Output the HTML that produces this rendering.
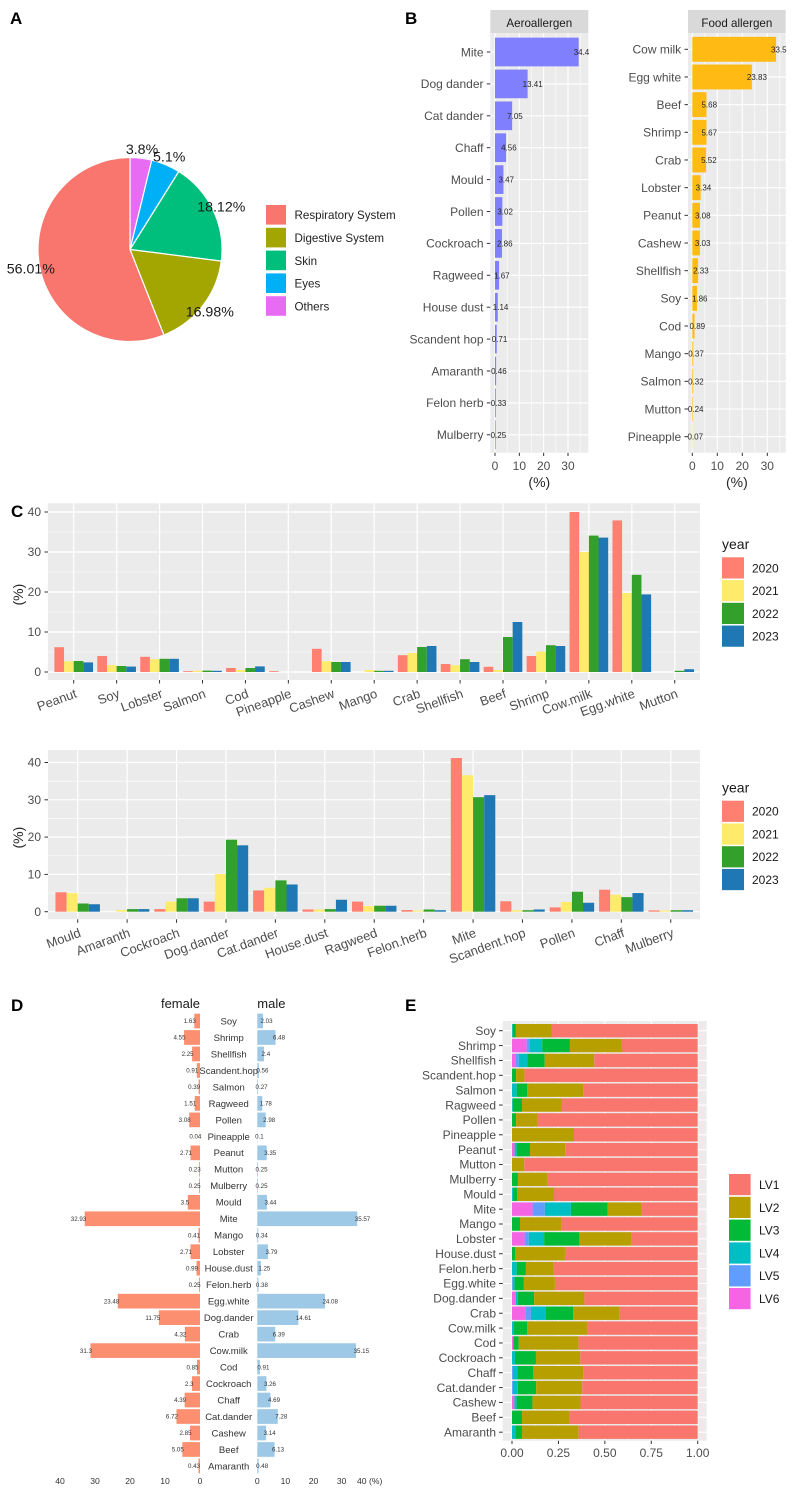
<!DOCTYPE html>
<html lang="en">
<head>
<meta charset="utf-8">
<title>Allergen sensitization charts</title>
<style>
html,body{margin:0;padding:0;background:#fff;}
#figure{display:block;width:797px;height:1488px;font-family:"Liberation Sans",sans-serif;}
</style>
</head>
<body>
<svg id="figure" xmlns="http://www.w3.org/2000/svg" width="797" height="1488" viewBox="0 0 797 1488">
  <rect x="0" y="0" width="797" height="1488" fill="#ffffff"/>
  <text x="10" y="24" font-size="17" font-weight="bold" fill="#000">A</text>
  <text x="405" y="24" font-size="17" font-weight="bold" fill="#000">B</text>
  <text x="11" y="517" font-size="17" font-weight="bold" fill="#000">C</text>
  <text x="11" y="1011" font-size="17" font-weight="bold" fill="#000">D</text>
  <text x="405" y="1011" font-size="17" font-weight="bold" fill="#000">E</text>
</svg>
<script>
/* ---------- Panel A data ---------- */
const pieCategories = ["Others", "Eyes", "Skin", "Digestive System", "Respiratory System"];
const pieValues = [3.8, 5.1, 18.12, 16.98, 56.01];
const pieLegendOrder = ["Respiratory System", "Digestive System", "Skin", "Eyes", "Others"];

/* ---------- Panel B data ---------- */
const aeroCategories = ["Mite", "Dog dander", "Cat dander", "Chaff", "Mould", "Pollen", "Cockroach", "Ragweed", "House dust", "Scandent hop", "Amaranth", "Felon herb", "Mulberry"];
const aeroValues = [34.4, 13.41, 7.05, 4.56, 3.47, 3.02, 2.86, 1.67, 1.14, 0.71, 0.46, 0.33, 0.25];
const foodCategories = ["Cow milk", "Egg white", "Beef", "Shrimp", "Crab", "Lobster", "Peanut", "Cashew", "Shellfish", "Soy", "Cod", "Mango", "Salmon", "Mutton", "Pineapple"];
const foodValues = [33.5, 23.83, 5.68, 5.67, 5.52, 3.34, 3.08, 3.03, 2.33, 1.86, 0.89, 0.37, 0.32, 0.24, 0.07];
const percentTicks = [0, 10, 20, 30];

/* ---------- Panel C data ---------- */
const years = ["2020", "2021", "2022", "2023"];
const yearTicks = [0, 10, 20, 30, 40];
const foodYearCategories = ["Peanut", "Soy", "Lobster", "Salmon", "Cod", "Pineapple", "Cashew", "Mango", "Crab", "Shellfish", "Beef", "Shrimp", "Cow.milk", "Egg.white", "Mutton"];
const food2020 = [6.2, 4.0, 3.8, 0.2, 1.0, 0.2, 5.8, 0, 4.2, 2.0, 1.3, 4.0, 40.0, 37.9, 0];
const food2021 = [2.7, 1.7, 3.2, 0.3, 0.5, 0, 2.7, 0.5, 4.75, 1.7, 0.5, 5.1, 30.0, 19.75, 0];
const food2022 = [2.75, 1.5, 3.3, 0.35, 1.0, 0, 2.5, 0.3, 6.25, 3.2, 8.75, 6.7, 34.1, 24.3, 0.3];
const food2023 = [2.4, 1.35, 3.3, 0.3, 1.4, 0, 2.5, 0.3, 6.5, 2.5, 12.5, 6.5, 33.6, 19.4, 0.7];
const aeroYearCategories = ["Mould", "Amaranth", "Cockroach", "Dog.dander", "Cat.dander", "House.dust", "Ragweed", "Felon.herb", "Mite", "Scandent.hop", "Pollen", "Chaff", "Mulberry"];
const aero2020 = [5.2, 0, 0.7, 2.7, 5.7, 0.6, 2.7, 0.45, 41.2, 2.8, 1.15, 5.9, 0.35];
const aero2021 = [5.0, 0.45, 2.7, 10.1, 6.4, 0.6, 1.5, 0.3, 36.6, 0.4, 2.6, 4.55, 0.3];
const aero2022 = [2.2, 0.7, 3.6, 19.3, 8.4, 0.7, 1.6, 0.6, 30.7, 0.4, 5.35, 3.9, 0.4];
const aero2023 = [2.0, 0.7, 3.6, 17.8, 7.3, 3.2, 1.6, 0.4, 31.25, 0.6, 2.4, 5.0, 0.4];

/* ---------- Panel D / E data ---------- */
const allergenCategories = ["Soy", "Shrimp", "Shellfish", "Scandent.hop", "Salmon", "Ragweed", "Pollen", "Pineapple", "Peanut", "Mutton", "Mulberry", "Mould", "Mite", "Mango", "Lobster", "House.dust", "Felon.herb", "Egg.white", "Dog.dander", "Crab", "Cow.milk", "Cod", "Cockroach", "Chaff", "Cat.dander", "Cashew", "Beef", "Amaranth"];
const femaleValues = [1.63, 4.55, 2.25, 0.91, 0.39, 1.51, 3.08, 0.04, 2.71, 0.23, 0.25, 3.5, 32.93, 0.41, 2.71, 0.99, 0.25, 23.48, 11.75, 4.32, 31.3, 0.85, 2.3, 4.39, 6.72, 2.85, 5.05, 0.43];
const maleValues = [2.03, 6.48, 2.4, 0.56, 0.27, 1.78, 2.98, 0.1, 3.35, 0.25, 0.25, 3.44, 35.57, 0.34, 3.79, 1.25, 0.38, 24.08, 14.61, 6.39, 35.15, 0.91, 3.26, 4.69, 7.28, 3.14, 6.13, 0.48];
const sexTickValues = [0, 10, 20, 30, 40];
const femaleTickLabels = ["0", "10", "20", "30", "40"];
const maleTickLabels = ["0", "10", "20", "30", "40 (%)"];

const levelNames = ["LV1", "LV2", "LV3", "LV4", "LV5", "LV6"];
const lv1 = [.785, .408, .557, .933, .616, .731, .863, .666, .713, .934, .808, .774, .303, .734, .357, .715, .776, .769, .61, .42, .594, .641, .632, .616, .622, .631, .691, .641];
const lv2 = [.194, .28, .267, .045, .303, .215, .115, .334, .19, .066, .16, .199, .183, .223, .28, .269, .149, .167, .271, .25, .325, .323, .239, .271, .248, .259, .255, .305];
const lv3 = [.017, .149, .093, .022, .056, .05, .022, 0, .072, 0, .032, .022, .197, .043, .19, .016, .05, .05, .088, .149, .072, .029, .113, .084, .099, .085, .054, .036];
const lv4 = [.004, .068, .047, 0, .025, .004, 0, 0, .011, 0, 0, .005, .14, 0, .083, 0, .025, .01, .011, .079, .009, 0, .016, .024, .026, .012, 0, .018];
const lv5 = [0, .016, .018, 0, 0, 0, 0, 0, 0, 0, 0, 0, .066, 0, .022, 0, 0, .004, 0, .027, 0, 0, 0, .005, .005, 0, 0, 0];
const lv6 = [0, .079, .018, 0, 0, 0, 0, 0, .014, 0, 0, 0, .111, 0, .068, 0, 0, 0, .02, .075, 0, .007, 0, 0, 0, .013, 0, 0];
const shareTicks = [0, 0.25, 0.5, 0.75, 1];

/* ---------- helpers ---------- */
const NS = "http://www.w3.org/2000/svg";
const root = document.getElementById("figure");
const INK = "#4d4d4d";
const TICK = "#333333";
const PANEL = "#ebebeb";

function add(parent, tag, attrs, text) {
  const el = document.createElementNS(NS, tag);
  for (const k in attrs) el.setAttribute(k, attrs[k]);
  if (text !== undefined) el.textContent = text;
  parent.appendChild(el);
  return el;
}
function named(el, name) {
  
  
  return el;
}
function slug(s) {
  return String(s).toLowerCase().replace(/[^a-z0-9]+/g, '-');
}
function group(name) {
  return named(add(root, "g", {}), name);
}
function line(p, x1, y1, x2, y2, stroke, w, name) {
  return named(add(p, "line", { x1, y1, x2, y2, stroke, "stroke-width": w }), name);
}
function rect(p, x, y, width, height, fill, name) {
  return named(add(p, "rect", { x, y, width, height, fill }), name);
}
function label(p, x, y, str, size, fill, anchor, name, extra) {
  const attrs = Object.assign({ x, y, "font-size": size, fill, "text-anchor": anchor || "start" }, extra || {});
  return named(add(p, "text", attrs, str), name);
}

/* ---------- Panel A: pie ---------- */
(function () {
  const g = group("pie-chart");
  const cx = 130, cy = 249.5, r = 92, labelR = 101;
  const fills = { "Respiratory System": "#F8766D", "Digestive System": "#A3A500", "Skin": "#00BF7D", "Eyes": "#00B0F6", "Others": "#E76BF3" };
  const total = pieValues.reduce((a, b) => a + b, 0);
  const point = (frac, rad) => [cx + rad * Math.sin(frac * 2 * Math.PI), cy - rad * Math.cos(frac * 2 * Math.PI)];
  let run = 0;
  const labels = [];
  pieValues.forEach((v, i) => {
    const a = run / total, b = (run + v) / total;
    const [x1, y1] = point(a, r), [x2, y2] = point(b, r);
    const d = `M${cx} ${cy}L${x1} ${y1}A${r} ${r} 0 ${b - a > .5 ? 1 : 0} 1 ${x2} ${y2}Z`;
    named(add(g, "path", { d, fill: fills[pieCategories[i]], stroke: "#fff", "stroke-width": 1.2 }), "pie-slice-" + slug(pieCategories[i]));
    labels.push([point((a + b) / 2, labelR), v, pieCategories[i]]);
    run += v;
  });
  labels.forEach(([pt, v, c]) => {
    label(g, pt[0], pt[1] + 5, v + "%", 14.2, "#1a1a1a", "middle", "pie-label-" + slug(c));
  });
  const lg = group("pie-legend");
  pieLegendOrder.forEach((c, i) => {
    const y = 205 + i * 22.8;
    rect(lg, 266, y, 20, 19.6, fills[c], "legend-key-" + slug(c));
    label(lg, 294.5, y + 14.2, c, 11.6, "#1f1f1f", "start", "legend-entry-" + slug(c));
  });
})();

/* ---------- Panel B: horizontal bars ---------- */
function drawFacet(name, title, cats, vals, fill, o) {
  const g = group(name);
  const x = v => o.x0 + v * o.k;
  const y = i => o.firstY + i * o.stepY;
  rect(g, o.left, 10, o.right - o.left, 23, "#d9d9d9", "facet-strip");
  label(g, (o.left + o.right) / 2, 27, title, 11.6, "#1a1a1a", "middle", "facet-title");
  rect(g, o.left, 33, o.right - o.left, 419.7, PANEL, "plot-panel");
  percentTicks.forEach(t => {
    line(g, x(t + 5), 33, x(t + 5), 452.7, "#fff", 0.6, "minor-gridline");
    line(g, x(t), 33, x(t), 452.7, "#fff", 1.1, "major-gridline");
    line(g, x(t), 452.7, x(t), 456, TICK, 1, "x-tick");
    label(g, x(t), 470, String(t), 12, INK, "middle", "x-tick-label");
  });
  cats.forEach((c, i) => {
    line(g, o.left, y(i), o.right, y(i), "#fff", 1.1, "y-gridline");
    line(g, o.left - 3.5, y(i), o.left, y(i), TICK, 1, "y-tick");
    label(g, o.left - 6.8, y(i) + 4.3, c, 12, INK, "end", "y-tick-label");
  });
  cats.forEach((c, i) => {
    rect(g, x(0), y(i) - o.stepY * .45, vals[i] * o.k, o.stepY * .9, fill, "bar-" + slug(c));
  });
  cats.forEach((c, i) => {
    label(g, x(vals[i]) - 5, y(i) + 3, String(vals[i]), 8, "#262626", "start", "value-label-" + slug(c));
  });
  label(g, (o.left + o.right) / 2, 487, "(%)", 14, "#262626", "middle", "x-axis-title");
}
drawFacet("aeroallergen-bars", "Aeroallergen", aeroCategories, aeroValues, "#8080ff",
  { left: 490.3, right: 588.3, x0: 495, k: 2.433, firstY: 52, stepY: 31.9 });
drawFacet("food-allergen-bars", "Food allergen", foodCategories, foodValues, "#ffbb14",
  { left: 688, right: 785.7, x0: 692.3, k: 2.5, firstY: 49.3, stepY: 27.67 });

/* ---------- Panel C: grouped bars ---------- */
const yearFills = ["#ff8070", "#ffeb6b", "#33a02c", "#1f78b4"];
function drawYearChart(name, cats, series, o) {
  const g = group(name);
  const y = v => o.y0 - v * o.k;
  const cx = i => o.firstX + i * o.stepX;
  rect(g, 48, o.top, 652, o.bottom - o.top, PANEL, "plot-panel");
  yearTicks.forEach(t => {
    if (t < 40) line(g, 48, y(t + 5), 700, y(t + 5), "#fff", 0.6, "minor-gridline");
    line(g, 48, y(t), 700, y(t), "#fff", 1.2, "major-gridline");
    line(g, 44.5, y(t), 48, y(t), TICK, 1, "y-tick");
    label(g, 41, y(t) + 4.1, String(t), 12, INK, "end", "y-tick-label");
  });
  cats.forEach((c, i) => {
    line(g, cx(i), o.top, cx(i), o.bottom, "#fff", 1.2, "x-gridline");
    line(g, cx(i), o.bottom, cx(i), o.bottom + 3.5, TICK, 1, "x-tick");
    const tx = cx(i) + 4, ty = o.bottom + 17;
    label(g, tx, ty, c, 13, INK, "end", "x-tick-label", { transform: `rotate(-20 ${tx} ${ty})` });
  });
  const w = o.stepX * .9 / series.length;
  series.forEach((vals, s) => {
    cats.forEach((c, i) => {
      rect(g, cx(i) - o.stepX * .45 + s * w, y(vals[i]), w, vals[i] * o.k, yearFills[s], "bar-" + slug(c) + "-" + years[s]);
    });
  });
  const ty = (o.top + o.bottom) / 2 + 3;
  label(g, 0, 0, "(%)", 14, "#262626", "middle", "y-axis-title", { transform: `translate(23 ${ty}) rotate(-90)` });
  label(g, 722, o.legendTop - 8.3, "year", 14, "#1a1a1a", "start", "legend-title");
  years.forEach((yr, i) => {
    const ky = o.legendTop + i * 22.75;
    rect(g, 722, ky, 22, 21.2, yearFills[i], "legend-key-" + yr);
    label(g, 752, ky + 15, yr, 12, "#1a1a1a", "start", "legend-entry-" + yr);
  });
}
drawYearChart("food-year-bars", foodYearCategories, [food2020, food2021, food2022, food2023],
  { top: 503.3, bottom: 680, y0: 672, k: 4, firstX: 73.7, stepX: 42.93, legendTop: 557.3 });
drawYearChart("aero-year-bars", aeroYearCategories, [aero2020, aero2021, aero2022, aero2023],
  { top: 750, bottom: 919.3, y0: 911.7, k: 3.73, firstX: 77.7, stepX: 49.42, legendTop: 800.7 });

/* ---------- Panel D: population pyramid ---------- */
(function () {
  const g = group("sex-pyramid");
  const fx = v => 200 - v * 3.5;
  const mx = v => 257.3 + v * 2.81;
  const y = i => 1021 + i * 16.48;
  const h = 14.7;
  label(g, 200, 1008, "female", 13, "#1a1a1a", "end", "female-axis-title");
  label(g, 257.3, 1008, "male", 13, "#1a1a1a", "start", "male-axis-title");
  allergenCategories.forEach((c, i) => {
    rect(g, fx(femaleValues[i]), y(i) - h / 2, femaleValues[i] * 3.5, h, "#fc8f70", "female-bar-" + slug(c));
    rect(g, mx(0), y(i) - h / 2, maleValues[i] * 2.81, h, "#9dc8e6", "male-bar-" + slug(c));
    label(g, fx(femaleValues[i]) + 1.5, y(i) + 2.2, String(femaleValues[i]), 6.2, "#333", "end", "female-value-" + slug(c));
    label(g, mx(maleValues[i]) - 2.5, y(i) + 2.2, String(maleValues[i]), 6.2, "#333", "start", "male-value-" + slug(c));
    label(g, 228.7, y(i) + 3.4, c, 9.5, "#333", "middle", "category-label-" + slug(c));
  });
  sexTickValues.forEach((t, i) => {
    label(g, fx(t), 1484, femaleTickLabels[i], 8.6, "#333", "middle", "female-tick-label");
    label(g, mx(t), 1484, maleTickLabels[i], 8.6, "#333", "middle", "male-tick-label");
  });
})();

/* ---------- Panel E: stacked shares ---------- */
(function () {
  const g = group("severity-stacked-bars");
  const left = 502.7, right = 706.7, top = 1021, bottom = 1440.7;
  const x = v => 512 + v * 185.7;
  const y = i => 1030.7 + i * 14.87;
  const fills = { LV1: "#F8766D", LV2: "#B79F00", LV3: "#00BA38", LV4: "#00BFC4", LV5: "#619CFF", LV6: "#F564E3" };
  const layers = [lv6, lv5, lv4, lv3, lv2, lv1];
  const layerNames = ["LV6", "LV5", "LV4", "LV3", "LV2", "LV1"];
  rect(g, left, top, right - left, bottom - top, PANEL, "plot-panel");
  shareTicks.forEach((t, i) => {
    if (i < shareTicks.length - 1) line(g, x(t + .125), top, x(t + .125), bottom, "#fff", .6, "minor-gridline");
    line(g, x(t), top, x(t), bottom, "#fff", 1.1, "major-gridline");
    line(g, x(t), bottom, x(t), bottom + 3.3, TICK, 1, "x-tick");
    label(g, x(t), 1457, t.toFixed(2), 12, INK, "middle", "x-tick-label");
  });
  allergenCategories.forEach((c, i) => {
    line(g, left, y(i), right, y(i), "#fff", 1.1, "y-gridline");
    line(g, 499, y(i), left, y(i), TICK, 1, "y-tick");
    label(g, 496, y(i) + 4.2, c, 12, INK, "end", "y-tick-label");
    let run = 0;
    layers.forEach((lv, k) => {
      if (lv[i] > 0) rect(g, x(run), y(i) - 6.7, lv[i] * 185.7, 13.4, fills[layerNames[k]], "segment-" + slug(c) + "-" + slug(layerNames[k]));
      run += lv[i];
    });
  });
  levelNames.forEach((n, i) => {
    const ky = 1174 + i * 22.8;
    rect(g, 729, ky, 21.6, 21.2, fills[n], "legend-key-" + slug(n));
    label(g, 759, ky + 15, n, 12, "#1a1a1a", "start", "legend-entry-" + slug(n));
  });
})();
</script>
</body>
</html>
